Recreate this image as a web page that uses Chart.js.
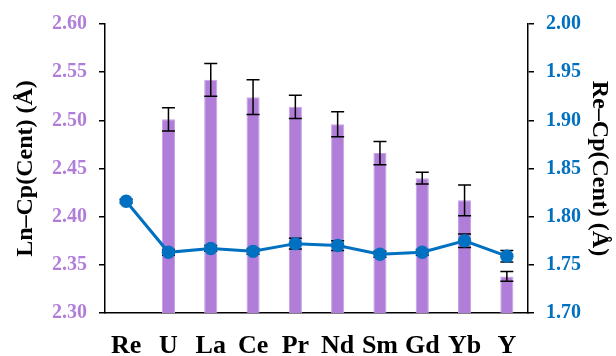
<!DOCTYPE html>
<html>
<head>
<meta charset="utf-8">
<script src="https://cdn.jsdelivr.net/npm/chart.js@4.4.0/dist/chart.umd.min.js"></script>
<style>
  html, body { margin: 0; padding: 0; background: #fff; }
  #wrap { width: 616px; height: 356px; }
</style>
</head>
<body>
<div id="wrap"><canvas id="chart"></canvas></div>
<script>
// data
const labels = ["Re", "U", "La", "Ce", "Pr", "Nd", "Sm", "Gd", "Yb", "Y"];
const lnCp = [null, 2.501, 2.542, 2.524, 2.514, 2.496, 2.466, 2.440, 2.417, 2.338];
const lnCpErr = [0, 0.012, 0.017, 0.018, 0.012, 0.013, 0.012, 0.006, 0.016, 0.005];
const reCp = [1.816, 1.763, 1.767, 1.764, 1.772, 1.770, 1.761, 1.763, 1.775, 1.759];
const reCpErr = [0.002, 0.003, 0.003, 0.003, 0.0055, 0.005, 0.003, 0.003, 0.007, 0.006];
const leftTicks = ["2.30", "2.35", "2.40", "2.45", "2.50", "2.55", "2.60"];
const rightTicks = ["1.70", "1.75", "1.80", "1.85", "1.90", "1.95", "2.00"];

const purple = "#B07ED8";
const blue = "#0070C0";
const serif = "'Liberation Serif', 'Times New Roman', serif";

// draws the error bars through the chart's own scales
function drawErr(chart, index, errs, axis) {
  const ctx = chart.ctx;
  const meta = chart.getDatasetMeta(index);
  const scale = chart.scales[axis];
  const vals = chart.data.datasets[index].data;
  ctx.save();
  ctx.strokeStyle = "#000";
  ctx.lineWidth = 1.5;
  meta.data.forEach(function (el, i) {
    if (vals[i] == null || !errs[i]) return;
    const x = el.x;
    const top = scale.getPixelForValue(vals[i] + errs[i]);
    const bot = scale.getPixelForValue(vals[i] - errs[i]);
    ctx.beginPath();
    ctx.moveTo(x, top); ctx.lineTo(x, bot);
    ctx.moveTo(x - 6.5, top); ctx.lineTo(x + 6.5, top);
    ctx.moveTo(x - 6.5, bot); ctx.lineTo(x + 6.5, bot);
    ctx.stroke();
  });
  ctx.restore();
}

const errorBars = {
  id: "errorBars",
  afterDatasetDraw(chart, args) {
    if (args.index === 1) drawErr(chart, 1, lnCpErr, "y");
  },
  beforeDatasetDraw(chart, args) {
    if (args.index === 0) drawErr(chart, 0, reCpErr, "y1");
  }
};

new Chart(document.getElementById("chart"), {
  data: {
    labels: labels,
    datasets: [
      {
        type: "line",
        data: reCp,
        yAxisID: "y1",
        order: 0,
        borderColor: blue,
        backgroundColor: blue,
        borderWidth: 3,
        pointRadius: 6.7,
        pointBorderWidth: 0,
        tension: 0
      },
      {
        type: "bar",
        data: lnCp,
        yAxisID: "y",
        order: 1,
        backgroundColor: purple,
        borderColor: "#C4A3E6",
        borderWidth: 1,
        barPercentage: 0.31,
        categoryPercentage: 1
      }
    ]
  },
  options: {
    responsive: true,
    maintainAspectRatio: false,
    animation: false,
    devicePixelRatio: 1,
    layout: { padding: { top: 22, left: 0, right: 0, bottom: 0 } },
    plugins: { legend: { display: false }, tooltip: { enabled: false } },
    scales: {
      x: {
        grid: { display: false, drawTicks: false },
        border: { color: "#000", width: 1.5 },
        ticks: { color: "#000", font: { family: serif, size: 26, weight: "bold" }, padding: 18 },
        afterFit(s) { s.height = 43; }
      },
      y: {
        position: "left",
        min: 2.3,
        max: 2.6,
        ticks: {
          stepSize: 0.05,
          color: purple,
          padding: 12,
          font: { family: serif, size: 20, weight: "bold" },
          callback: (v, i) => leftTicks[i]
        },
        grid: { drawOnChartArea: false, tickLength: 6, color: "#000", lineWidth: 1.5 },
        border: { color: "#000", width: 1.5 },
        title: {
          display: true,
          text: "Ln–Cp(Cent) (Å)",
          color: "#000",
          font: { family: serif, size: 24, weight: "bold" },
          padding: { top: 11, bottom: 0 }
        },
        afterFit(s) { s.width = 105; }
      },
      y1: {
        position: "right",
        min: 1.7,
        max: 2.0,
        ticks: {
          stepSize: 0.05,
          color: blue,
          padding: 12,
          font: { family: serif, size: 20, weight: "bold" },
          callback: (v, i) => rightTicks[i]
        },
        grid: { drawOnChartArea: false, tickLength: 6, color: "#000", lineWidth: 1.5 },
        border: { color: "#000", width: 1.5 },
        title: {
          display: true,
          text: "Re–Cp(Cent) (Å)",
          color: "#000",
          font: { family: serif, size: 24, weight: "bold" },
          padding: { top: 2, bottom: 0 }
        },
        afterFit(s) { s.width = 88; }
      }
    }
  },
  plugins: [errorBars]
});
</script>
</body>
</html>
